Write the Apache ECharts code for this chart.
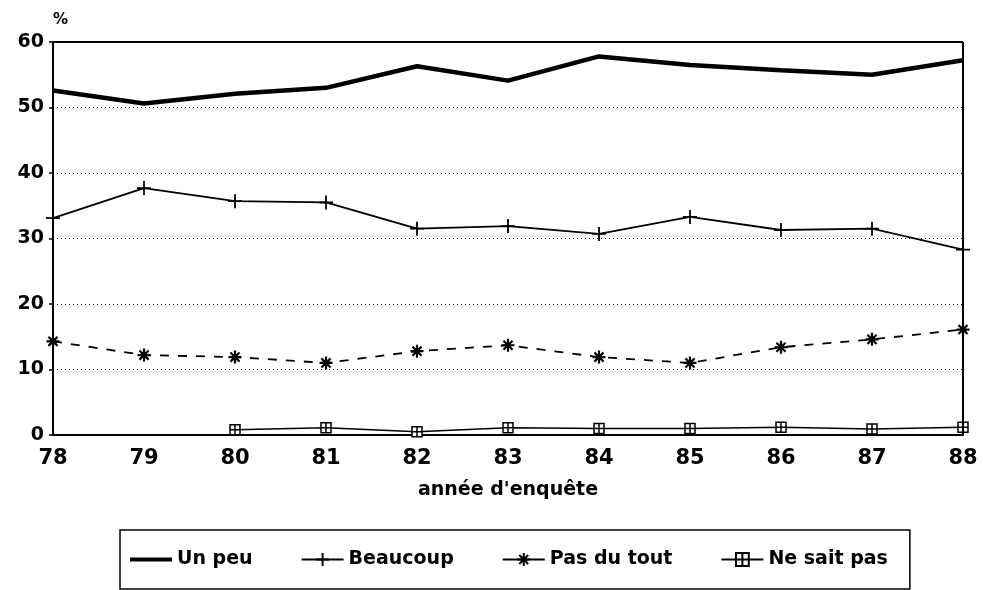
<!DOCTYPE html>
<html>
<head>
<meta charset="utf-8">
<script src="https://cdn.jsdelivr.net/npm/echarts@6/dist/echarts.min.js"></script>
<style>
  html, body { margin: 0; padding: 0; background: #fff; }
  #chart { width: 983px; height: 590px; }
</style>
</head>
<body>
<div id="chart"></div>
<script>
// Survey years (x axis)
const years = ['78', '79', '80', '81', '82', '83', '84', '85', '86', '87', '88'];

// Percentages per answer
const unPeu     = [52.6, 50.6, 52.1, 53.0, 56.3, 54.1, 57.8, 56.5, 55.7, 55.0, 57.2];
const beaucoup  = [33.1, 37.7, 35.7, 35.5, 31.5, 31.9, 30.7, 33.3, 31.3, 31.5, 28.3];
const pasDuTout = [14.3, 12.2, 11.9, 11.0, 12.8, 13.7, 11.9, 11.0, 13.4, 14.6, 16.1];
const neSaitPas = [null, null, 0.8, 1.1, 0.5, 1.1, 1.0, 1.0, 1.2, 0.9, 1.2];

const yTicks = [0, 10, 20, 30, 40, 50, 60];

const FONT = '"DejaVu Sans", "Liberation Sans", Arial, sans-serif';

// Marker shapes drawn as strokes
const plusSymbol = 'path://M0,-10L0,10M-10,0L10,0';
const starSymbol = 'path://M0,-10L0,10M-10,0L10,0M-7,-7L7,7M-7,7L7,-7';
const boxSymbol  = 'path://M-8,-8L8,-8L8,8L-8,8Z M0,-8L0,8 M-8,0L8,0';
const thickBar   = 'path://M0,0L40,0L40,4L0,4Z';

const chart = echarts.init(document.getElementById('chart'), null, { renderer: 'canvas' });

chart.setOption({
  backgroundColor: '#fff',
  animation: false,
  grid: { left: 53, right: 20, top: 42, bottom: 155, show: false },
  xAxis: {
    type: 'category',
    data: years,
    boundaryGap: false,
    name: "année d'enquête",
    nameLocation: 'middle',
    nameGap: 46,
    nameTextStyle: { fontFamily: FONT, fontWeight: 'bold', fontSize: 19, color: '#000' },
    axisLine: { lineStyle: { color: '#000', width: 2 } },
    axisTick: { show: false },
    axisLabel: { fontFamily: FONT, fontWeight: 'bold', fontSize: 21, color: '#000', margin: 13 },
    splitLine: { show: false }
  },
  yAxis: {
    type: 'value',
    min: yTicks[0],
    max: yTicks[yTicks.length - 1],
    interval: 10,
    name: '%',
    nameLocation: 'end',
    nameGap: 14,
    nameTextStyle: { fontFamily: FONT, fontWeight: 'bold', fontSize: 15, color: '#000', align: 'left' },
    axisLine: { show: true, lineStyle: { color: '#000', width: 2 } },
    axisTick: { show: true, length: 4, lineStyle: { color: '#000', width: 1.5 } },
    axisLabel: { fontFamily: FONT, fontWeight: 'bold', fontSize: 19, color: '#000', margin: 9 },
    splitLine: { show: true, lineStyle: { color: '#000', width: 1, type: [1, 3] } }
  },
  legend: {
    left: 120,
    top: 530,
    padding: [20, 22, 20, 10],
    itemGap: 48,
    itemWidth: 42,
    itemHeight: 16,
    borderColor: '#000',
    borderWidth: 1.5,
    borderRadius: 0,
    textStyle: { fontFamily: FONT, fontWeight: 'bold', fontSize: 19, color: '#000' },
    data: [
      { name: 'Un peu', icon: thickBar, symbolKeepAspect: true },
      { name: 'Beaucoup' },
      { name: 'Pas du tout', lineStyle: { type: 'solid' } },
      { name: 'Ne sait pas' }
    ]
  },
  series: [
    {
      name: 'Un peu',
      type: 'line',
      data: unPeu,
      showSymbol: false,
      symbol: 'none',
      lineStyle: { color: '#000', width: 4.5 },
      itemStyle: { color: '#000' },
      // frame: top and right edges of the plot
      markLine: {
        silent: true,
        symbol: 'none',
        label: { show: false },
        lineStyle: { color: '#000', width: 2, type: 'solid' },
        data: [
          [{ coord: ['78', 60] }, { coord: ['88', 60] }],
          [{ coord: ['88', 0] }, { coord: ['88', 60] }]
        ]
      },
      z: 5
    },
    {
      name: 'Beaucoup',
      type: 'line',
      data: beaucoup,
      symbol: plusSymbol,
      symbolSize: 14,
      showAllSymbol: true,
      lineStyle: { color: '#000', width: 1.8 },
      itemStyle: { color: '#000', borderColor: '#000', borderWidth: 1.8 },
      z: 4
    },
    {
      name: 'Pas du tout',
      type: 'line',
      data: pasDuTout,
      symbol: starSymbol,
      symbolSize: 13,
      showAllSymbol: true,
      lineStyle: { color: '#000', width: 1.8, type: [9, 9] },
      itemStyle: { color: '#000', borderColor: '#000', borderWidth: 2.2 },
      z: 4
    },
    {
      name: 'Ne sait pas',
      type: 'line',
      data: neSaitPas,
      symbol: boxSymbol,
      symbolSize: 10,
      showAllSymbol: true,
      lineStyle: { color: '#000', width: 1.5 },
      itemStyle: { color: '#fff', borderColor: '#000', borderWidth: 1.5 },
      z: 4
    }
  ]
});
</script>
</body>
</html>
